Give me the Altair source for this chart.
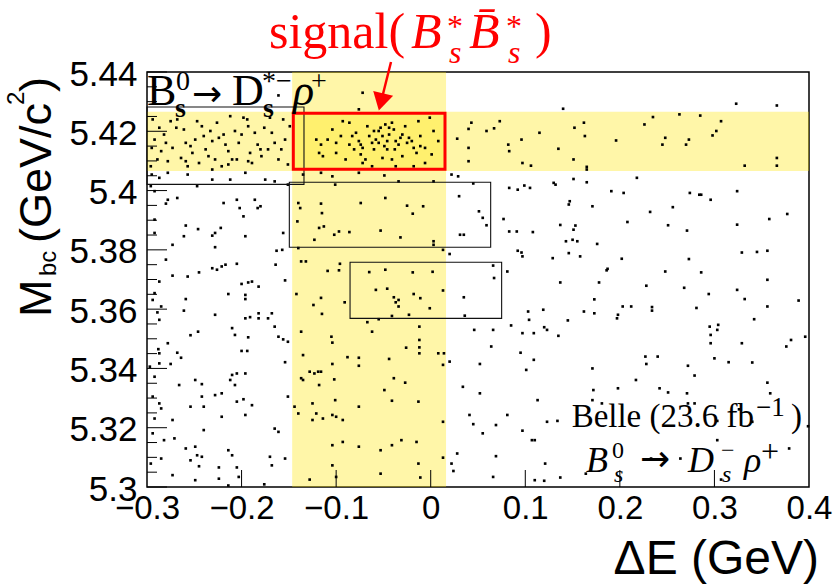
import altair as alt
import pandas as pd

# ---------------- data ----------------
top_pts = [(-0.072,5.4330),(-0.076,5.4274),(0.140,5.4276),(0.323,5.4293),(0.366,5.4287),(-0.161,5.4321)]

band_left_pts = [(-0.294,5.4240),(-0.287,5.4212),(-0.282,5.4189),(-0.292,5.4172),(-0.295,5.4144),(-0.285,5.4133),(-0.289,5.4105),(-0.278,5.4099),(-0.268,5.4240),(-0.269,5.4212),(-0.261,5.4206),(-0.259,5.4161),(-0.254,5.4150),(-0.249,5.4172),(-0.247,5.4234),(-0.242,5.4217),(-0.238,5.4139),(-0.235,5.4116),(-0.233,5.4201),(-0.231,5.4167),(-0.228,5.4105),(-0.224,5.4178),(-0.221,5.4082),(-0.217,5.4155),(-0.214,5.4133),(-0.212,5.4251),(-0.207,5.4201),(-0.205,5.4105),(-0.203,5.4161),(-0.198,5.4246),(-0.194,5.4240),(-0.193,5.4099),(-0.191,5.4127),(-0.186,5.4195),(-0.183,5.4155),(-0.179,5.4116),(-0.176,5.4212),(-0.172,5.4139),(-0.168,5.4195),(-0.165,5.4161),(-0.161,5.4105),(-0.154,5.4172),(-0.151,5.4088),(-0.296,5.4082),(-0.275,5.4234),(-0.264,5.4110),(-0.257,5.4082),(-0.240,5.4184),(-0.226,5.4229),(-0.219,5.4189),(-0.210,5.4105),(-0.200,5.4189),(-0.189,5.4093),(-0.180,5.4139),(-0.170,5.4246),(-0.158,5.4139),(-0.149,5.4217),(-0.259,5.4099),(-0.245,5.4093),(-0.280,5.4161),(-0.252,5.4127),(-0.273,5.4144),(-0.231,5.4071),(-0.214,5.4088),(-0.193,5.4217),(-0.156,5.4240)]

signal_pts = [(-0.121,5.4172),(-0.118,5.4127),(-0.114,5.4116),(-0.104,5.4206),(-0.100,5.4161),(-0.093,5.4234),(-0.086,5.4229),(-0.083,5.4184),(-0.079,5.4195),(-0.076,5.4167),(-0.074,5.4155),(-0.072,5.4144),(-0.069,5.4105),(-0.065,5.4184),(-0.062,5.4161),(-0.060,5.4139),(-0.058,5.4172),(-0.055,5.4201),(-0.053,5.4212),(-0.051,5.4184),(-0.049,5.4150),(-0.048,5.4223),(-0.046,5.4167),(-0.044,5.4189),(-0.041,5.4229),(-0.039,5.4206),(-0.038,5.4139),(-0.034,5.4155),(-0.032,5.4178),(-0.030,5.4116),(-0.025,5.4161),(-0.023,5.4178),(-0.020,5.4167),(-0.018,5.4144),(-0.013,5.4234),(-0.011,5.4150),(-0.006,5.4093),(-0.001,5.4246),(0.001,5.4122),(0.003,5.4201),(0.008,5.4167),(-0.072,5.4093),(-0.062,5.4082),(-0.090,5.4105),(-0.100,5.4127),(-0.109,5.4172),(-0.051,5.4110),(-0.037,5.4082),(-0.018,5.4082),(-0.060,5.4201),(-0.044,5.4212),(-0.027,5.4217),(-0.081,5.4139),(-0.067,5.4217),(-0.086,5.4155),(-0.037,5.4167),(-0.055,5.4161),(-0.046,5.4139),(-0.030,5.4189),(-0.011,5.4184),(-0.116,5.4155),(-0.006,5.4144),(-0.074,5.4122),(-0.015,5.4127),(-0.041,5.4105),(-0.095,5.4184)]

band_right_pts = [(0.028,5.4175),(0.040,5.4144),(0.040,5.4099),(0.040,5.4208),(0.043,5.4229),(0.059,5.4201),(0.067,5.4210),(0.073,5.4234),(0.082,5.4155),(0.083,5.4133),(0.096,5.4172),(0.097,5.4093),(0.106,5.4084),(0.115,5.4195),(0.135,5.4141),(0.151,5.4105),(0.152,5.4212),(0.162,5.4229),(0.163,5.4184),(0.165,5.4080),(0.196,5.4169),(0.226,5.4223),(0.235,5.4248),(0.245,5.4155),(0.248,5.4178),(0.263,5.4257),(0.270,5.4155),(0.273,5.4172),(0.285,5.4253),(0.298,5.4186),(0.302,5.4201),(0.307,5.4234),(0.332,5.4084),(0.366,5.4110),(0.366,5.4084)]

bkg_upper_pts = [(-0.295,5.4054),(-0.287,5.4043),(-0.278,5.4060),(-0.257,5.4054),(-0.247,5.4015),(-0.231,5.4037),(-0.212,5.4037),(-0.196,5.4060),(-0.175,5.4037),(-0.165,5.4031),(-0.151,5.4020),(-0.135,5.4054),(-0.116,5.4060),(-0.104,5.4048),(-0.101,5.4020),(-0.076,5.4060),(-0.049,5.4051),(-0.034,5.4031),(0.003,5.4031),(0.022,5.4054),(0.029,5.4048),(0.045,5.4024),(0.083,5.4009),(0.092,5.4003),(0.099,5.4017),(0.105,5.4009),(0.130,5.4026),(0.132,5.4020),(0.151,5.4039),(0.165,5.4028),(0.165,5.4071),(0.218,5.4043),(0.191,5.3998),(0.204,5.3992),(0.274,5.3992),(0.286,5.3986),(0.296,5.3969),(0.324,5.3998),
    (-0.296,5.4015),(-0.292,5.3998),(-0.278,5.3969),(-0.268,5.3975),(-0.219,5.3958),(-0.205,5.3969),(-0.202,5.3941),(-0.198,5.3913),(-0.186,5.3969),(-0.183,5.3941),(-0.180,5.3947),(-0.292,5.3902),(-0.292,5.3857),(-0.280,5.3956),(-0.273,5.3817),(-0.261,5.3846),(-0.259,5.3882),(-0.246,5.3870),(-0.231,5.3848),(-0.228,5.3857),(-0.222,5.3874),(-0.228,5.3809),(-0.196,5.3846),(-0.156,5.3857),(-0.140,5.3958),(-0.138,5.3941),(-0.141,5.3896),(-0.116,5.3956),(-0.115,5.3924),(-0.118,5.3874),(-0.113,5.3879),(-0.123,5.3834),(-0.102,5.3851),(-0.097,5.3862),(-0.086,5.3860),(-0.074,5.3958),(-0.053,5.3865),(-0.048,5.3975),(-0.032,5.3842),(-0.025,5.3949),(-0.019,5.3922),(-0.008,5.3947),(0.003,5.3829),(0.003,5.3817),(0.030,5.3981),(0.031,5.3851),(0.035,5.3851),(0.051,5.3930),(0.055,5.3908),(0.059,5.3883),(0.077,5.3904),(0.083,5.3862),(0.091,5.3862),(0.108,5.3860),(0.137,5.3884),(0.146,5.3953),(0.147,5.3964),(0.151,5.3868),(0.153,5.3882),(0.143,5.3829),(0.150,5.3834),(0.171,5.3947),(0.176,5.3820),(0.208,5.3894),(0.232,5.3928),(0.251,5.3883),(0.256,5.3944),(0.271,5.3865),(0.284,5.3986),(0.324,5.3885),(0.358,5.3904),(0.377,5.3921)]

bkg_mid_pts = [(-0.273,5.3713),(-0.257,5.3710),(-0.245,5.3724),(-0.231,5.3738),(-0.226,5.3733),(-0.221,5.3744),(-0.217,5.3750),(-0.205,5.3753),(-0.200,5.3685),(-0.193,5.3690),(-0.189,5.3693),(-0.182,5.3676),(-0.164,5.3750),(-0.157,5.3800),(-0.154,5.3697),(-0.280,5.3767),(-0.287,5.3693),(-0.292,5.3654),(-0.294,5.3631),(-0.285,5.3609),(-0.259,5.3634),(-0.261,5.3595),(-0.214,5.3651),(-0.196,5.3634),(-0.196,5.3648),(-0.228,5.3581),(-0.142,5.3651),(-0.140,5.3806),(-0.137,5.3761),(-0.132,5.3761),(-0.163,5.3797),(-0.109,5.3729),(-0.097,5.3731),(-0.096,5.3753),(-0.091,5.3623),(-0.116,5.3638),(-0.124,5.3614),(-0.115,5.3584),(-0.065,5.3725),(-0.048,5.3733),(-0.019,5.3724),(0.002,5.3726),(-0.058,5.3665),(-0.046,5.3669),(-0.039,5.3640),(-0.037,5.3623),(-0.034,5.3631),(-0.034,5.3609),(-0.018,5.3651),(-0.011,5.3637),(-0.001,5.3603),(-0.041,5.3577),(-0.023,5.3581),(0.013,5.3663),(0.013,5.3800),(0.020,5.3786),(0.035,5.3640),(0.036,5.3578),(0.066,5.3747),(0.067,5.3705),(0.081,5.3727),(0.092,5.3797),(0.096,5.3791),(0.097,5.3778),(0.129,5.3772),(0.137,5.3690),(0.146,5.3789),(0.155,5.3829),(0.158,5.3778),(0.186,5.3731),(0.187,5.3736),(0.178,5.3690),(0.202,5.3770),(0.203,5.3609),(0.212,5.3609),(0.228,5.3679),(0.234,5.3607),(0.234,5.3595),(0.248,5.3727),(0.268,5.3672),(0.273,5.3769),(0.281,5.3604),(0.286,5.3724),(0.294,5.3651),(0.324,5.3665),(0.329,5.3791),(0.332,5.3634),(0.345,5.3793),(0.356,5.3797),(0.356,5.3699),(0.356,5.3609),(0.389,5.3629),(0.173,5.3633),(0.162,5.3592),(0.173,5.3586)]

bkg_low_pts = [(-0.289,5.3589),(-0.287,5.3564),(-0.278,5.3485),(-0.288,5.3465),(-0.287,5.3451),(-0.268,5.3453),(-0.264,5.3436),(-0.287,5.3417),(-0.275,5.3415),(-0.292,5.3372),(-0.297,5.3406),(-0.254,5.3512),(-0.246,5.3524),(-0.210,5.3536),(-0.207,5.3513),(-0.193,5.3505),(-0.196,5.3569),(-0.191,5.3573),(-0.182,5.3586),(-0.182,5.3569),(-0.172,5.3569),(-0.168,5.3586),(-0.165,5.3541),(-0.161,5.3507),(-0.156,5.3498),(-0.151,5.3490),(-0.200,5.3459),(-0.194,5.3459),(-0.154,5.3421),(-0.137,5.3524),(-0.135,5.3445),(-0.105,5.3507),(-0.104,5.3487),(-0.104,5.3415),(-0.088,5.3438),(-0.076,5.3436),(-0.076,5.3409),(-0.119,5.3389),(-0.123,5.3383),(-0.116,5.3389),(-0.135,5.3361),(-0.118,5.3344),(-0.102,5.3363),(-0.067,5.3556),(-0.062,5.3524),(-0.055,5.3566),(-0.044,5.3432),(-0.026,5.3470),(-0.012,5.3496),(-0.012,5.3471),(-0.012,5.3541),(-0.012,5.3451),(0.008,5.3451),(0.014,5.3451),(0.013,5.3412),(0.020,5.3423),(0.046,5.3530),(0.052,5.3415),(0.066,5.3530),(0.064,5.3474),(0.085,5.3545),(0.097,5.3519),(0.109,5.3519),(0.103,5.3592),(0.104,5.3564),(0.119,5.3598),(0.120,5.3539),(0.123,5.3530),(0.135,5.3510),(0.095,5.3453),(0.109,5.3429),(0.101,5.3395),(0.145,5.3562),(0.171,5.3400),(0.197,5.3569),(0.198,5.3581),(0.227,5.3440),(0.228,5.3415),(0.240,5.3440),(0.272,5.3409),(0.279,5.3376),(0.295,5.3541),(0.304,5.3547),(0.303,5.3530),(0.296,5.3485),(0.296,5.3513),(0.315,5.3421),(0.329,5.3485),(0.340,5.3420),(0.342,5.3566),(0.376,5.3474),(0.381,5.3496),(0.396,5.3507),(0.300,5.3434)]

bkg_bottom_pts = [(-0.294,5.3305),(-0.287,5.3282),(-0.285,5.3265),(-0.292,5.3231),(-0.273,5.3226),(-0.266,5.3344),(-0.242,5.3347),(-0.249,5.3361),(-0.242,5.3305),(-0.228,5.3310),(-0.221,5.3316),(-0.212,5.3361),(-0.210,5.3378),(-0.205,5.3383),(-0.196,5.3383),(-0.207,5.3344),(-0.205,5.3288),(-0.198,5.3296),(-0.189,5.3276),(-0.221,5.3237),(-0.196,5.3243),(-0.254,5.3271),(-0.240,5.3271),(-0.240,5.3192),(-0.294,5.3181),(-0.282,5.3158),(-0.271,5.3164),(-0.259,5.3130),(-0.249,5.3136),(-0.247,5.3107),(-0.254,5.3090),(-0.245,5.3070),(-0.242,5.3102),(-0.224,5.3066),(-0.214,5.3124),(-0.210,5.3107),(-0.203,5.3034),(-0.205,5.3066),(-0.170,5.3102),(-0.168,5.3073),(-0.176,5.3009),(-0.154,5.3096),(-0.165,5.3197),(-0.161,5.3186),(-0.151,5.3305),(-0.144,5.3271),(-0.140,5.3248),(-0.137,5.3367),(-0.128,5.3389),(-0.125,5.3282),(-0.121,5.3248),(-0.125,5.3226),(-0.114,5.3231),(-0.104,5.3243),(-0.100,5.3237),(-0.093,5.3226),(-0.101,5.3293),(-0.041,5.3291),(-0.049,5.3327),(-0.039,5.3367),(-0.027,5.3352),(-0.013,5.3288),(-0.076,5.3271),(-0.093,5.3152),(-0.104,5.3141),(-0.076,5.3136),(-0.053,5.3124),(-0.041,5.3141),(-0.031,5.3158),(-0.015,5.3152),(0.013,5.3099),(0.013,5.3220),(0.022,5.3079),(0.028,5.3113),(0.024,5.3054),(0.041,5.3243),(0.045,5.3212),(0.055,5.3181),(0.069,5.3209),(0.081,5.3243),(0.097,5.3190),(0.107,5.3158),(0.110,5.3158),(0.123,5.3220),(0.134,5.3223),(0.113,5.3293),(0.034,5.3338),(0.052,5.3316),(0.172,5.3327),(0.171,5.3293),(0.181,5.3282),(0.198,5.3333),(0.217,5.3361),(0.242,5.3333),(0.251,5.3319),(0.271,5.3316),(0.272,5.3282),(0.279,5.3282),(0.356,5.3352),(0.359,5.3316),(0.303,5.3223),(0.326,5.3262),(0.340,5.3220),(0.379,5.3130),(0.399,5.3205),(0.303,5.3158),(-0.104,5.3073),(-0.053,5.3045),(-0.013,5.3079),(0.069,5.3104),(0.066,5.3034),(0.121,5.3079),(-0.285,5.3096),(-0.296,5.3079),(-0.273,5.3040),(-0.249,5.3023),(-0.224,5.3028),(-0.214,5.3005),(-0.128,5.3025),(-0.100,5.3034),(-0.011,5.3032),(0.110,5.3023),(0.120,5.3021),(0.137,5.3032),(0.233,5.3096),(0.264,5.3096),(0.307,5.3025),(0.164,5.3045)]

# selection bands (yellow) and boxes
band_x1 = [-0.1465, -0.3]
band_x2 = [0.0162, 0.4]
band_y1 = [5.30, 5.4066]
band_y2 = [5.44, 5.4266]

box_x1 = [-0.300, -0.1495, -0.0853]
box_x2 = [-0.134, 0.0634, 0.0750]
box_y1 = [5.4021, 5.3809, 5.3569]
box_y2 = [5.4282, 5.4028, 5.3758]

sig_x1, sig_x2, sig_y1, sig_y2 = [-0.1453], [0.0151], [5.4072], [5.4261]

x_tick_labels = [-0.3, -0.2, -0.1, 0.0, 0.1, 0.2, 0.3, 0.4]
x_major = [-0.2, -0.1, 0.0, 0.1, 0.2, 0.3]
y_major = [5.30, 5.32, 5.34, 5.36, 5.38, 5.40, 5.42, 5.44]
y_minor = [5.305, 5.31, 5.315, 5.325, 5.33, 5.335, 5.345, 5.35, 5.355, 5.365, 5.37, 5.375,
           5.385, 5.39, 5.395, 5.405, 5.41, 5.415, 5.425, 5.43, 5.435]

# ---------------- chart ----------------
W, H = 662, 415
L, T = 147, 72
RED = "#FF0000"

all_pts = (top_pts + band_left_pts + signal_pts + band_right_pts + bkg_upper_pts
           + bkg_mid_pts + bkg_low_pts + bkg_bottom_pts)
pts = pd.DataFrame(all_pts, columns=["dE", "Mbc"])

xs = alt.Scale(domain=[-0.3, 0.4], nice=False, zero=False)
ys = alt.Scale(domain=[5.30, 5.44], nice=False, zero=False)
xaxis = alt.Axis(values=x_tick_labels, format=".1~f", labelFont="Liberation Sans",
                 labelFontSize=33, labelColor="black", ticks=False, domain=False,
                 grid=False, labelPadding=5, title=None, labelFlush=False,
                 labelOverlap=False)
yaxis = alt.Axis(values=y_major, format=".2~f", labelFont="Liberation Sans",
                 labelFontSize=35, labelColor="black", ticks=False, domain=False,
                 grid=False, labelPadding=10, title=None, labelFlush=False,
                 labelOverlap=False, labelOffset=2)

bands = alt.Chart(pd.DataFrame({"x1": band_x1, "x2": band_x2, "y1": band_y1, "y2": band_y2})).mark_rect(
    color="#FFE500", opacity=0.34).encode(
    x=alt.X("x1:Q", scale=xs, axis=xaxis), x2="x2:Q",
    y=alt.Y("y1:Q", scale=ys, axis=yaxis), y2="y2:Q")

points = alt.Chart(pts).mark_square(size=7, color="black", opacity=1).encode(
    x=alt.X("dE:Q", scale=xs, axis=xaxis), y=alt.Y("Mbc:Q", scale=ys, axis=yaxis))

boxes = alt.Chart(pd.DataFrame({"x1": box_x1, "x2": box_x2, "y1": box_y1, "y2": box_y2})).mark_rect(
    fillOpacity=0, stroke="#111111", strokeWidth=1.1).encode(
    x=alt.X("x1:Q", scale=xs, axis=xaxis), x2="x2:Q",
    y=alt.Y("y1:Q", scale=ys, axis=yaxis), y2="y2:Q")

sigbox = alt.Chart(pd.DataFrame({"x1": sig_x1, "x2": sig_x2, "y1": sig_y1, "y2": sig_y2})).mark_rect(
    fillOpacity=0, stroke=RED, strokeWidth=3).encode(
    x=alt.X("x1:Q", scale=xs, axis=xaxis), x2="x2:Q",
    y=alt.Y("y1:Q", scale=ys, axis=yaxis), y2="y2:Q")

xt = alt.Chart(pd.DataFrame({"v": x_major})).mark_rule(color="black", strokeWidth=1).encode(
    x=alt.X("v:Q", scale=xs, axis=xaxis), y=alt.value(H), y2=alt.value(H - 17))
ytM = alt.Chart(pd.DataFrame({"v": y_major})).mark_rule(color="black", strokeWidth=1).encode(
    y=alt.Y("v:Q", scale=ys, axis=yaxis), x=alt.value(0), x2=alt.value(20))
ytm = alt.Chart(pd.DataFrame({"v": y_minor})).mark_rule(color="black", strokeWidth=1).encode(
    y=alt.Y("v:Q", scale=ys, axis=yaxis), x=alt.value(0), x2=alt.value(10))

one = pd.DataFrame({"k": [0]})


def txt(s, px, py, size, font="Liberation Serif", style="normal", weight="normal",
        color="black", align="left", angle=0):
    kw = dict(text=s, fontSize=size, font=font, fontStyle=style, fontWeight=weight,
              color=color, align=align, baseline="alphabetic")
    if angle:
        kw["angle"] = angle
    return alt.Chart(one).mark_text(**kw).encode(x=alt.value(px - L), y=alt.value(py - T))


texts = [
    # top-left decay label
    txt("B", 147, 105, 44),
    txt("0", 176, 90, 28),
    txt("s", 175, 117, 28, weight="bold"),
    txt("→", 192, 106, 36, font="DejaVu Sans"),
    txt("D", 232, 105, 44),
    txt("*−", 262, 90, 28),
    txt("s", 263, 117, 28, weight="bold"),
    txt("ρ", 293, 105, 44, style="italic"),
    txt("+", 311, 90, 28),
    # signal label (red)
    txt("signal(", 269, 48, 50, color=RED),
    txt("B", 411, 48, 50, style="italic", color=RED),
    txt("*", 447, 37, 32, color=RED),
    txt("s", 449, 63, 32, style="italic", color=RED),
    txt("B\u0304", 469, 48, 50, style="italic", color=RED),
    txt("*", 506, 37, 32, color=RED),
    txt("s", 508, 63, 32, style="italic", color=RED),
    txt(")", 535, 48, 50, color=RED),
    # Belle label
    txt("Belle (23.6 fb", 754, 427, 33, align="right"),
    txt("−1", 756, 416, 27),
    txt(")", 791, 427, 33),
    txt("B", 586, 472, 36, style="italic"),
    txt("0", 612, 458, 24),
    txt("s", 614, 482, 24, style="italic"),
    txt("→", 640, 471, 36, font="DejaVu Sans"),
    txt("D", 688, 472, 36, style="italic"),
    txt("−", 721, 458, 24),
    txt("s", 722, 482, 24, style="italic"),
    txt("ρ", 744, 472, 36, style="italic"),
    txt("+", 761, 462, 32),
    # axis titles
    txt("ΔE (GeV)", 819, 574, 48, font="Liberation Sans", align="right"),
    txt("M", 51, 317, 45, font="Liberation Sans", angle=270),
    txt("bc", 56, 276, 24, font="Liberation Sans", angle=270),
    txt("(GeV/c", 51, 243, 45, font="Liberation Sans", angle=270),
    txt("2", 24, 105, 24, font="Liberation Sans", angle=270),
    txt(")", 51, 92, 45, font="Liberation Sans", angle=270),
]

arrow_line = alt.Chart(one).mark_rule(color=RED, strokeWidth=2.5).encode(
    x=alt.value(391 - L), y=alt.value(62 - T), x2=alt.value(382 - L), y2=alt.value(98 - T))
arrow_head = alt.Chart(one).mark_point(shape="triangle-down", filled=True, color=RED,
                                       size=420, angle=14, opacity=1).encode(
    x=alt.value(381 - L), y=alt.value(102 - T))

chart = alt.layer(bands, points, boxes, sigbox, xt, ytM, ytm, arrow_line, arrow_head, *texts).properties(
    width=W, height=H,
    autosize=alt.AutoSizeParams(type="none"),
    padding={"left": L, "top": T, "right": 837 - L - W, "bottom": 585 - T - H},
).configure_view(stroke="black", strokeWidth=1.5)

chart.save("out.html", embed_options={"renderer": "svg", "actions": False})
